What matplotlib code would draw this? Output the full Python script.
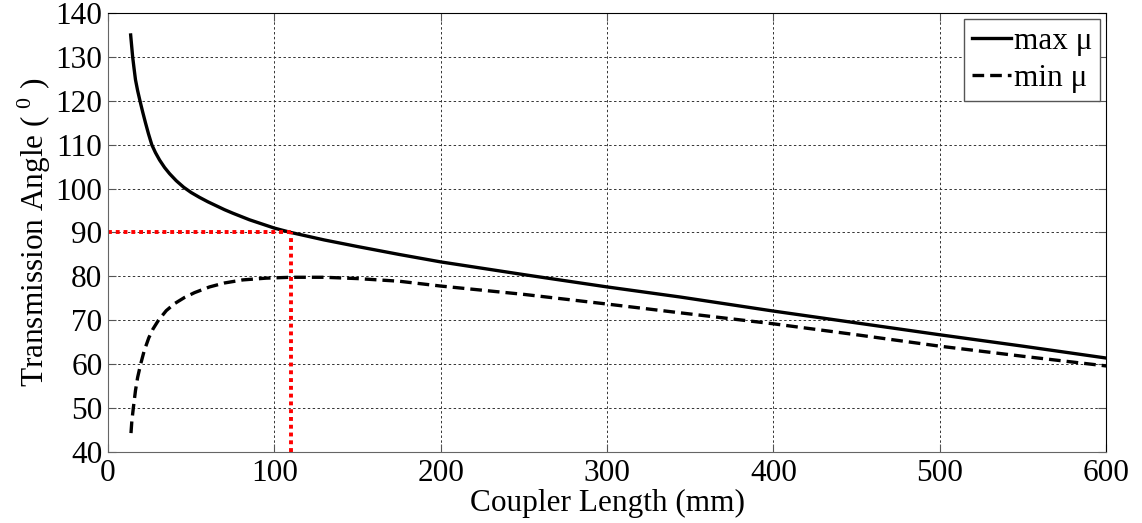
import matplotlib.pyplot as plt

plt.rcParams['font.family'] = 'Liberation Serif'
plt.rcParams['mathtext.fontset'] = 'custom'
plt.rcParams['mathtext.rm'] = 'Liberation Serif'

# max mu curve
max_x = [13.6, 14.2, 14.8, 15.6, 16.5, 17.8, 19.2, 20.8, 22.5, 24.3, 26.3, 28.5,
         31, 34, 37, 41, 45.5, 50, 55, 60, 65, 70, 75, 85, 100, 110, 130, 150,
         175, 200, 250, 300, 344, 400, 450, 500, 550, 600]
max_y = [135, 132.5, 130, 127.5, 124.8, 122.3, 120, 117.5, 115, 112.5, 110, 108.2,
         106.5, 104.8, 103.4, 101.8, 100.3, 99.1, 98, 97, 96.1, 95.2, 94.4, 92.9,
         91, 90, 88.3, 86.8, 85, 83.3, 80.4, 77.6, 75.3, 72.1, 69.4, 66.7, 64.1, 61.4]

# min mu curve
min_x = [13.8, 14.3, 15.2, 16.5, 17.8, 19.6, 21.7, 24.5, 27, 30.3, 35, 40, 46,
         52, 61, 70, 81, 95, 110, 130, 150, 175, 200, 250, 300, 344, 400, 450,
         500, 550, 600]
min_y = [44.3, 47, 50, 54, 57, 60, 63, 66, 68, 70, 72.2, 73.8, 75.2, 76.3, 77.6,
         78.5, 79.2, 79.6, 79.8, 79.8, 79.5, 78.9, 77.8, 75.9, 73.7, 71.7, 69.2,
         66.7, 64.1, 61.8, 59.6]

# red marker lines at optimum
opt_x = 110
opt_y = 90

fig = plt.figure(figsize=(11.42, 5.23), dpi=100)
ax = fig.add_axes([0.0946, 0.1358, 0.874, 0.8393])

ax.plot(max_x, max_y, color='black', lw=2.4, label='max \u03bc')
ax.plot(min_x, min_y, color='black', lw=2.4, ls=(0, (3.5, 1.8)), label='min \u03bc')
ax.plot([0, opt_x], [opt_y, opt_y], color='red', lw=2.8, ls=(0, (1, 1)))
ax.plot([opt_x, opt_x], [40, opt_y], color='red', lw=2.8, ls=(0, (1, 1)))

ax.set_xlim(0, 600)
ax.set_ylim(40, 140)
ax.set_xticks(range(0, 601, 100))
ax.set_yticks(range(40, 141, 10))
ax.grid(True, color='#333333', ls=(0, (2.5, 2.5)), lw=0.7)
ax.tick_params(direction='in', top=True, right=True, labelsize=22.5, length=6,
               color='#555555')
ax.tick_params(axis='x', pad=5)
ax.tick_params(axis='y', pad=4)
for s in ['left', 'bottom']:
    ax.spines[s].set_color('#666666')
for s in ['top', 'right']:
    ax.spines[s].set_color('black')

ax.set_xlabel('Coupler Length (mm)', fontsize=22.5, labelpad=1)
ax.set_ylabel('Transmission Angle ( $^{0}$ )', fontsize=22.5, labelpad=2)

leg = ax.legend(loc='upper right', fontsize=22.5, handlelength=1.25, handletextpad=0.08,
                borderaxespad=0.2, fancybox=False, framealpha=1, borderpad=0.25,
                labelspacing=0.25)
leg.get_frame().set_edgecolor('#555555')
leg.get_frame().set_linewidth(1.0)

fig.savefig('out.png', dpi=100)
